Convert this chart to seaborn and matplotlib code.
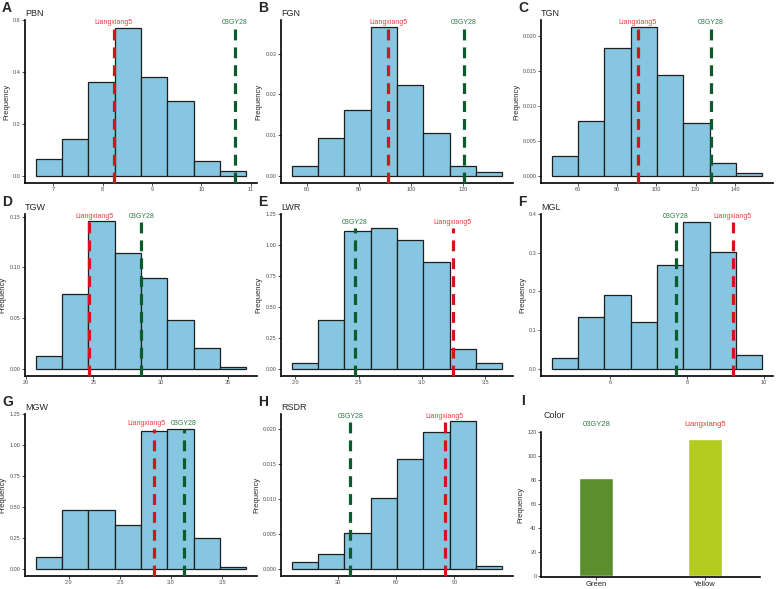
import pandas as pd
import matplotlib
matplotlib.use("Agg")
import matplotlib.pyplot as plt
import seaborn as sns
from matplotlib.ticker import FormatStrFormatter
from matplotlib.transforms import offset_copy

# ---- data ----
# each trait: first bin edge, bin width, bar heights (density), parent values
pbn_start, pbn_width = 6.64, 0.534
pbn_freq = [0.065, 0.143, 0.361, 0.571, 0.381, 0.286, 0.056, 0.017]
pbn_lx5, pbn_gy28 = 8.22, 10.67

fgn_start, fgn_width = 54.2, 10.1
fgn_freq = [0.0024, 0.0093, 0.0161, 0.0365, 0.0224, 0.0106, 0.0024, 0.0008]
fgn_lx5, fgn_gy28 = 91.3, 120.2

tgn_start, tgn_width = 46.8, 13.4
tgn_freq = [0.00283, 0.00785, 0.01834, 0.02122, 0.01439, 0.00751, 0.00176, 0.0003]
tgn_lx5, tgn_gy28 = 90.5, 127.6

tgw_start, tgw_width = 20.71, 1.96
tgw_freq = [0.0128, 0.0739, 0.1455, 0.1146, 0.0893, 0.0483, 0.020, 0.002]
tgw_lx5, tgw_gy28 = 24.66, 28.58

lwr_start, lwr_width = 1.971, 0.208
lwr_freq = [0.044, 0.394, 1.113, 1.14, 1.044, 0.86, 0.163, 0.044]
lwr_lx5, lwr_gy28 = 3.242, 2.471

mgl_start, mgl_width = 4.475, 0.686
mgl_freq = [0.0275, 0.133, 0.19, 0.12, 0.268, 0.38, 0.302, 0.035]
mgl_lx5, mgl_gy28 = 9.19, 7.71

mgw_start, mgw_width = 1.674, 0.258
mgw_freq = [0.097, 0.472, 0.472, 0.358, 1.114, 1.131, 0.247, 0.019]
mgw_lx5, mgw_gy28 = 2.832, 3.123

rsdr_start, rsdr_width = 6.34, 13.55
rsdr_freq = [0.00102, 0.00213, 0.00504, 0.0101, 0.01564, 0.0196, 0.0211, 0.00034]
rsdr_lx5, rsdr_gy28 = 85.0, 36.5

color_names = ["Green", "Yellow"]
color_counts = [82, 114]
color_parents = ["03GY28", "Liangxiang5"]

panels = [
    ("A", "PBN", pbn_start, pbn_width, pbn_freq, pbn_lx5, pbn_gy28, [7, 8, 9, 10, 11], [0, 0.2, 0.4, 0.6], "%d", "%.1f"),
    ("B", "FGN", fgn_start, fgn_width, fgn_freq, fgn_lx5, fgn_gy28, [60, 80, 100, 120], [0, 0.01, 0.02, 0.03], "%d", "%.2f"),
    ("C", "TGN", tgn_start, tgn_width, tgn_freq, tgn_lx5, tgn_gy28, [60, 80, 100, 120, 140], [0, 0.005, 0.01, 0.015, 0.02], "%d", "%.3f"),
    ("D", "TGW", tgw_start, tgw_width, tgw_freq, tgw_lx5, tgw_gy28, [20, 25, 30, 35], [0, 0.05, 0.10, 0.15], "%d", "%.2f"),
    ("E", "LWR", lwr_start, lwr_width, lwr_freq, lwr_lx5, lwr_gy28, [2.0, 2.5, 3.0, 3.5], [0, 0.25, 0.5, 0.75, 1.0, 1.25], "%.1f", "%.2f"),
    ("F", "MGL", mgl_start, mgl_width, mgl_freq, mgl_lx5, mgl_gy28, [6, 8, 10], [0, 0.1, 0.2, 0.3, 0.4], "%d", "%.1f"),
    ("G", "MGW", mgw_start, mgw_width, mgw_freq, mgw_lx5, mgw_gy28, [2.0, 2.5, 3.0, 3.5], [0, 0.25, 0.5, 0.75, 1.0, 1.25], "%.1f", "%.2f"),
    ("H", "RSDR", rsdr_start, rsdr_width, rsdr_freq, rsdr_lx5, rsdr_gy28, [30, 60, 90], [0, 0.005, 0.01, 0.015, 0.02], "%d", "%.3f"),
]

# small horizontal nudges (points) of the red label where labels crowd
red_nudge = {"D": 4, "G": -5}
# distance (px) of the y label from the axis, by tick label width
ylab_gap = {"%.1f": -15, "%.2f": -19, "%.3f": -21, "%d": -17}

# ---- style ----
sns.set_style("ticks")
plt.rcParams["font.family"] = ["Liberation Sans", "DejaVu Sans"]

BAR = "#86C6E1"
EDGE = "#1E1E1E"
RED = "#D4141C"
RED_TXT = "#EE3B3B"
GREEN = "#0B5B2C"
GREEN_TXT = "#2F7A48"
TICK_TXT = "#4D4D4D"

W, H = 779, 589
fig = plt.figure(figsize=(W / 100, H / 100), dpi=100)

col_x = [25, 281, 541]
row_y = [(20, 183), (214, 376), (414, 576)]
ax_w = 232


def style_axes(ax, width_px, gap):
    for s in ["top", "right"]:
        ax.spines[s].set_visible(False)
    for s in ["left", "bottom"]:
        ax.spines[s].set_linewidth(1.2)
        ax.spines[s].set_color("black")
    ax.tick_params(axis="both", length=2, width=0.6, color="#333333",
                   labelsize=4, labelcolor=TICK_TXT, pad=1.2)
    ax.set_xlabel("")
    ax.set_ylabel("Frequency", fontsize=5.5)
    ax.yaxis.set_label_coords(gap / width_px, 0.5)


for i, (letter, name, start, width, freq, lx5, gy28, xt, yt, xf, yf) in enumerate(panels):
    row, col = divmod(i, 3)
    top_px, bot_px = row_y[row]
    ax = fig.add_axes([col_x[col] / W, 1 - bot_px / H, ax_w / W, (bot_px - top_px) / H])

    edges = [start + width * k for k in range(len(freq) + 1)]
    df = pd.DataFrame({"mid": [e + width / 2 for e in edges[:-1]], "freq": freq})
    sns.histplot(data=df, x="mid", weights="freq", bins=edges, stat="count",
                 color=BAR, edgecolor=EDGE, linewidth=0.9, alpha=1, ax=ax)

    top = max(freq)
    span = edges[-1] - edges[0]
    ax.set_xlim(edges[0] - 0.05 * span, edges[-1] + 0.05 * span)
    ax.set_ylim(-0.05 * top, 1.05 * top)

    for val, lab, lc, tc in [(lx5, "Liangxiang5", RED, RED_TXT),
                             (gy28, "03GY28", GREEN, GREEN_TXT)]:
        ax.plot([val, val], [-0.05 * top, top], color=lc, lw=2.3,
                ls=(0, (3.4, 2.2)), solid_capstyle="butt", zorder=5, clip_on=False)
        dx = red_nudge.get(letter, 0) if lab == "Liangxiang5" else 0
        tr = offset_copy(ax.transData, fig=fig, x=dx, y=0, units="points")
        ax.text(val, top * 1.035, lab, color=tc, ha="center", va="center",
                fontsize=5, clip_on=False, zorder=6, transform=tr)

    ax.set_xticks(xt)
    ax.set_yticks(yt)
    ax.xaxis.set_major_formatter(FormatStrFormatter(xf))
    ax.yaxis.set_major_formatter(FormatStrFormatter(yf))
    style_axes(ax, ax_w, ylab_gap[yf])
    ax.set_title(name, loc="left", fontsize=6.5, pad=3)
    fig.text((col_x[col] - 23) / W, 1 - (top_px - 19) / H, letter,
             fontsize=10, fontweight="bold", va="top", ha="left")

# ---- panel I: seed colour counts ----
ax = fig.add_axes([541 / W, 1 - 577 / H, 219 / W, 145 / H])
sns.barplot(x=color_names, y=color_counts, hue=color_names,
            palette=["#5B8E2C", "#B4CB1F"], width=0.315, saturation=1,
            legend=False, ax=ax)
ax.set_xlim(-0.51, 1.51)
ax.set_ylim(-0.7, 120)
ax.set_yticks([0, 20, 40, 60, 80, 100, 120])
style_axes(ax, 219, ylab_gap["%d"])
ax.tick_params(axis="x", labelsize=5.5, labelcolor="#222222")
for j, lab in enumerate(color_parents):
    ax.text(j, 126, lab, color=GREEN_TXT if lab == "03GY28" else RED_TXT,
            ha="center", va="center", fontsize=5.5, clip_on=False)
fig.text(543 / W, 1 - 416 / H, "Color", fontsize=6.5, va="center", ha="left")
fig.text(521 / W, 1 - 394 / H, "I", fontsize=10, fontweight="bold", va="top", ha="left")

fig.savefig("out.png", dpi=100)
